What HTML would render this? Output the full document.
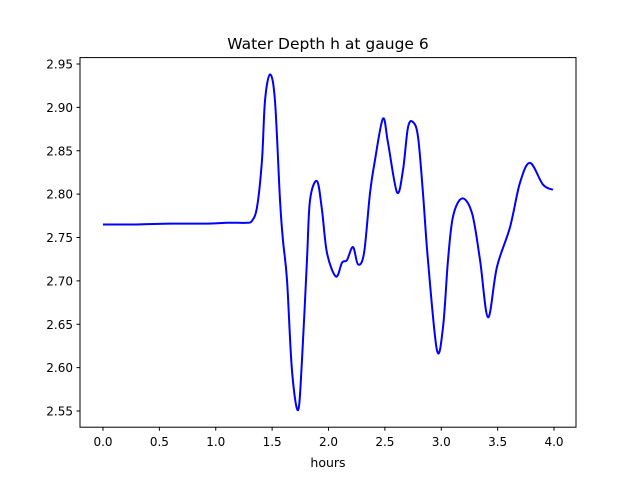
<!DOCTYPE html>
<html><head><meta charset="utf-8"><style>
body{margin:0;background:#fff;}
svg text{font-family:"DejaVu Sans","Liberation Sans",sans-serif;}
</style></head><body>
<svg id="chart" width="640" height="480" viewBox="0 0 640 480">
<rect width="640" height="480" fill="#fff"/>
<text x="328" y="49" font-size="15.5" text-anchor="middle">Water Depth h at gauge 6</text>
<text x="328" y="467" font-size="12.5" text-anchor="middle">hours</text>
<g id="xticks"></g>
<g id="yticks"></g>
<path id="line" fill="none" stroke="#0000ff" stroke-width="2"/>
<rect x="80" y="57.6" width="496" height="369.6" fill="none" stroke="#000" stroke-width="1"/>
</svg>
<script>
const times=[0,0.3,0.6,0.9,1.1,1.2,1.27,1.32,1.366,1.410,1.437,1.481,1.525,1.570,1.596,1.632,1.676,1.730,1.765,1.809,1.836,1.898,1.942,1.987,2.066,2.120,2.164,2.217,2.262,2.315,2.368,2.412,2.483,2.528,2.608,2.661,2.705,2.750,2.794,2.838,2.882,2.962,3.016,3.060,3.104,3.184,3.273,3.344,3.415,3.494,3.610,3.698,3.787,3.902,3.991];
const depths=[2.765,2.765,2.766,2.766,2.767,2.767,2.767,2.769,2.785,2.839,2.908,2.938,2.908,2.793,2.747,2.701,2.597,2.551,2.609,2.724,2.793,2.815,2.782,2.732,2.705,2.721,2.724,2.739,2.719,2.732,2.801,2.839,2.887,2.859,2.802,2.828,2.877,2.883,2.866,2.801,2.724,2.620,2.647,2.724,2.774,2.795,2.778,2.724,2.658,2.716,2.762,2.813,2.836,2.811,2.805];
const xTicks=[0,0.5,1,1.5,2,2.5,3,3.5,4];
const yTicks=[2.55,2.60,2.65,2.70,2.75,2.80,2.85,2.90,2.95];
const NS="http://www.w3.org/2000/svg";
function X(t){return 103+t*112.75;}
function Y(h){return 411-(h-2.55)*867.5;}
const xg=document.getElementById('xticks'),yg=document.getElementById('yticks');
xTicks.forEach(t=>{
 const l=document.createElementNS(NS,'line');
 
 
 l.setAttribute('x1',X(t));l.setAttribute('x2',X(t));l.setAttribute('y1',427.2);l.setAttribute('y2',430.7);l.setAttribute('stroke','#000');
 xg.appendChild(l);
 const s=document.createElementNS(NS,'text');
 
 
 s.setAttribute('x',X(t));s.setAttribute('y',446);s.setAttribute('font-size','12');s.setAttribute('text-anchor','middle');
 s.textContent=t.toFixed(1);xg.appendChild(s);
});
yTicks.forEach(v=>{
 const l=document.createElementNS(NS,'line');
 
 
 l.setAttribute('x1',76.5);l.setAttribute('x2',80);l.setAttribute('y1',Y(v));l.setAttribute('y2',Y(v));l.setAttribute('stroke','#000');
 yg.appendChild(l);
 const s=document.createElementNS(NS,'text');
 
 
 s.setAttribute('x',73);s.setAttribute('y',Y(v)+4.5);s.setAttribute('font-size','12');s.setAttribute('text-anchor','end');
 s.textContent=v.toFixed(2);yg.appendChild(s);
});
const P=times.map((t,i)=>[X(t),Y(depths[i])]);
let d='M'+P[0][0]+','+P[0][1];
for(let i=0;i<P.length-1;i++){
 const p0=P[Math.max(0,i-1)],p1=P[i],p2=P[i+1],p3=P[Math.min(P.length-1,i+2)];
 const c1=[p1[0]+(p2[0]-p0[0])/6,p1[1]+(p2[1]-p0[1])/6];
 const c2=[p2[0]-(p3[0]-p1[0])/6,p2[1]-(p3[1]-p1[1])/6];
 d+=' C'+c1[0].toFixed(2)+','+c1[1].toFixed(2)+' '+c2[0].toFixed(2)+','+c2[1].toFixed(2)+' '+p2[0].toFixed(2)+','+p2[1].toFixed(2);
}
document.getElementById('line').setAttribute('d',d);
</script>
</body></html>
